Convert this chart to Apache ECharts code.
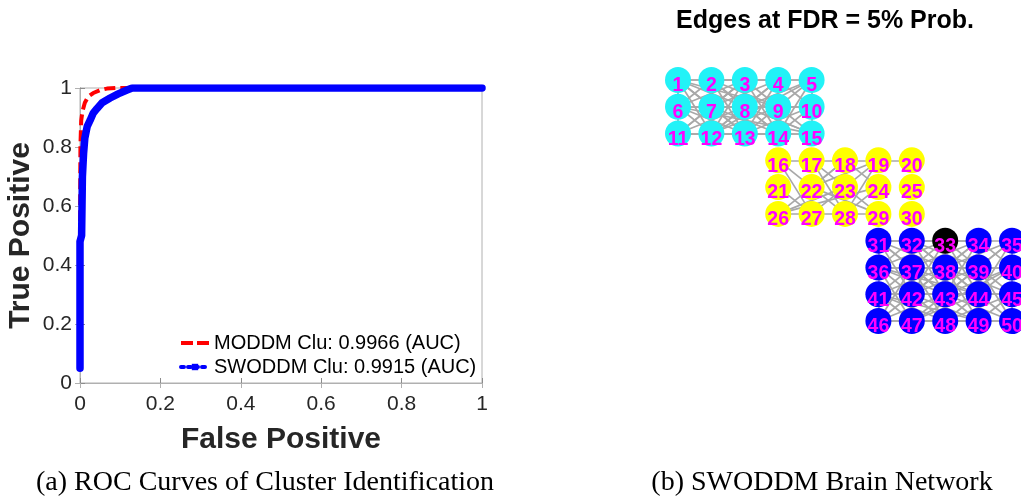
<!DOCTYPE html>
<html>
<head>
<meta charset="utf-8">
<script src="https://cdn.jsdelivr.net/npm/echarts@6/dist/echarts.min.js"></script>
<style>
html,body{margin:0;padding:0;background:#fff;}
#c{width:1021px;height:497px;}
</style>
</head>
<body>
<div id="c"></div>
<script>
// ROC curve data (False Positive, True Positive)
const moddmFP = [0, 0, 0.001, 0.003, 0.006, 0.012, 0.02, 0.033, 0.05, 0.067, 0.09, 1];
const moddmTP = [0.06, 0.5, 0.8, 0.89, 0.92, 0.95, 0.97, 0.983, 0.993, 0.998, 1, 1];
const swoddmFP = [0, 0, 0.004, 0.005, 0.006, 0.009, 0.012, 0.018, 0.025, 0.033, 0.042, 0.055, 0.075, 0.095, 0.117, 0.13, 1];
const swoddmTP = [0.05, 0.48, 0.5, 0.6, 0.7, 0.78, 0.83, 0.87, 0.89, 0.915, 0.93, 0.95, 0.966, 0.98, 0.993, 1, 1];
const seriesNames = ['MODDM Clu: 0.9966 (AUC)', 'SWODDM Clu: 0.9915 (AUC)'];

// Network nodes: id, grid column, grid row, cluster
const nodeIds  = [1,2,3,4,5,6,7,8,9,10,11,12,13,14,15,16,17,18,19,20,21,22,23,24,25,26,27,28,29,30,31,32,33,34,35,36,37,38,39,40,41,42,43,44,45,46,47,48,49,50];
const nodeCol  = [0,1,2,3,4,0,1,2,3,4,0,1,2,3,4, 3,4,5,6,7,3,4,5,6,7,3,4,5,6,7, 6,7,8,9,10,6,7,8,9,10,6,7,8,9,10,6,7,8,9,10];
const nodeRow  = [0,0,0,0,0,1,1,1,1,1,2,2,2,2,2, 3,3,3,3,3,4,4,4,4,4,5,5,5,5,5, 6,6,6,6,6,7,7,7,7,7,8,8,8,8,8,9,9,9,9,9];
const nodeGroup= [0,0,0,0,0,0,0,0,0,0,0,0,0,0,0, 1,1,1,1,1,1,1,1,1,1,1,1,1,1,1, 2,2,3,2,2,2,2,2,2,2,2,2,2,2,2,2,2,2,2,2];
const groupColors = ['#22f2f7', '#ffff00', '#0000ff', '#000000'];

// Edges (source, target)
const edges = [
 [1,2],[2,3],[3,4],[4,5],[6,7],[7,8],[8,9],[9,10],[11,12],[12,13],[13,14],[14,15],
 [1,6],[2,7],[3,8],[4,9],[5,10],[6,11],[7,12],[8,13],[9,14],[10,15],
 [1,7],[2,6],[2,8],[3,7],[3,9],[4,8],[4,10],[5,9],[6,12],[7,11],[7,13],[8,12],[8,14],[9,13],[9,15],[10,14],
 [1,8],[1,12],[2,9],[2,13],[3,6],[3,12],[3,14],[4,7],[4,13],[5,8],[5,14],[6,13],[7,14],[8,15],[11,8],[12,9],[13,10],
 [1,13],[2,14],[6,9],[11,14],[10,7],[12,4],[15,8],[11,3],[1,9],[5,12],[6,15],[1,3],[2,4],[3,5],[6,8],[7,9],[8,10],[11,13],[12,14],[13,15],
 [16,17],[17,18],[18,19],[19,20],[26,27],[27,28],[28,29],
 [16,22],[16,27],[17,23],[17,28],[18,22],[18,26],[19,27],[19,22],[19,28],[21,27],[22,28],[23,29],[24,28],[23,26],[22,29],[24,26],[18,24],
 [31,32],[32,33],[33,34],[34,35],[36,37],[37,38],[38,39],[39,40],[41,42],[42,43],[43,44],[44,45],[46,47],[47,48],[48,49],[49,50],
 [31,36],[32,37],[33,38],[34,39],[35,40],[36,41],[37,42],[38,43],[39,44],[40,45],[41,46],[42,47],[43,48],[44,49],[45,50],
 [31,37],[32,36],[32,38],[33,37],[33,39],[34,38],[34,40],[35,39],[36,42],[37,41],[37,43],[38,42],[38,44],[39,43],[39,45],[40,44],
 [41,47],[42,46],[42,48],[43,47],[43,49],[44,48],[44,50],[45,49],
 [31,38],[31,42],[32,39],[32,43],[33,36],[33,42],[33,44],[34,37],[34,43],[35,38],[35,44],[36,43],[37,44],[38,45],[41,38],[42,39],[43,40],
 [36,47],[37,48],[38,49],[39,50],[41,48],[42,49],[43,50],[46,43],[47,44],[48,45],[36,44],[41,49],[37,46],[40,47],[31,43],[32,44],[34,42],[35,43],[32,34],
 [31,33],[36,38],[37,39],[38,40],[41,43],[42,44],[43,45],[46,48],[47,49],[48,50]
];

const xTickInterval = 0.2;
const yTickInterval = 0.2;

const chart = echarts.init(document.getElementById('c'), null, {renderer: 'canvas'});

const sans = 'Liberation Sans';
const tickColor = '#262626';
const axisGray = '#8c8c8c';

const nodes = nodeIds.map((id, i) => ({
  name: String(id),
  value: [nodeCol[i], nodeRow[i]],
  itemStyle: {color: groupColors[nodeGroup[i]]}
}));
const links = edges.map(e => ({source: String(e[0]), target: String(e[1])}));

const option = {
  animation: false,
  backgroundColor: '#ffffff',
  grid: [
    {left: 80, top: 88, width: 402, height: 295, show: true, borderColor: '#b0b0b0', borderWidth: 1, backgroundColor: 'transparent'},
    {left: 678, top: 80, width: 334, height: 241, show: false}
  ],
  xAxis: [
    {type: 'value', gridIndex: 0, min: 0, max: 1, interval: xTickInterval,
     name: 'False Positive', nameLocation: 'middle', nameGap: 42,
     nameTextStyle: {fontFamily: sans, fontWeight: 'bold', fontSize: 30, color: tickColor},
     axisLine: {show: true, lineStyle: {color: axisGray, width: 1}},
     axisTick: {show: true, inside: true, length: 5, lineStyle: {color: axisGray}},
     axisLabel: {fontFamily: sans, fontSize: 21, color: tickColor, margin: 11},
     splitLine: {show: false}},
    {type: 'value', gridIndex: 0, min: 0, max: 1, interval: xTickInterval, position: 'top',
     axisLine: {show: true, lineStyle: {color: '#b0b0b0'}},
     axisTick: {show: true, inside: true, length: 5, lineStyle: {color: '#b0b0b0'}},
     axisLabel: {show: false}, splitLine: {show: false}},
    {type: 'value', gridIndex: 1, min: 0, max: 10, show: false}
  ],
  yAxis: [
    {type: 'value', gridIndex: 0, min: 0, max: 1, interval: yTickInterval,
     name: 'True Positive', nameLocation: 'middle', nameGap: 44,
     nameTextStyle: {fontFamily: sans, fontWeight: 'bold', fontSize: 30, color: tickColor},
     axisLine: {show: true, lineStyle: {color: axisGray, width: 1}},
     axisTick: {show: true, inside: true, length: 5, lineStyle: {color: axisGray}},
     axisLabel: {fontFamily: sans, fontSize: 21, color: tickColor, margin: 8},
     splitLine: {show: false}},
    {type: 'value', gridIndex: 0, min: 0, max: 1, interval: yTickInterval, position: 'right',
     axisLine: {show: true, lineStyle: {color: '#b0b0b0'}},
     axisTick: {show: true, inside: true, length: 5, lineStyle: {color: '#b0b0b0'}},
     axisLabel: {show: false}, splitLine: {show: false}},
    {type: 'value', gridIndex: 1, min: 0, max: 9, inverse: true, show: false}
  ],
  legend: {
    orient: 'vertical', left: 174, top: 327, itemWidth: 28, itemHeight: 8, itemGap: 2,
    textStyle: {fontFamily: sans, fontSize: 20, color: '#000', lineHeight: 22},
    data: [
      {name: seriesNames[0], itemStyle: {opacity: 0}, lineStyle: {color: '#ff0000', width: 4, type: [12, 4]}},
      {name: seriesNames[1], itemStyle: {color: '#0000ff'}, lineStyle: {color: '#0000ff', width: 4, type: [3, 4]}}
    ]
  },
  series: [
    {type: 'line', name: seriesNames[0], xAxisIndex: 0, yAxisIndex: 0,
     data: moddmFP.map((v, i) => [v, moddmTP[i]]),
     showSymbol: false, symbol: 'none', smooth: false,
     lineStyle: {color: '#ff0000', width: 4, type: [11, 5]}, itemStyle: {color: '#ff0000'}, z: 2},
    {type: 'line', name: seriesNames[1], xAxisIndex: 0, yAxisIndex: 0,
     data: swoddmFP.map((v, i) => [v, swoddmTP[i]]),
     showSymbol: false, symbol: 'rect', symbolSize: 8, smooth: false,
     lineStyle: {color: '#0000ff', width: 7.5, cap: 'round', join: 'round'}, itemStyle: {color: '#0000ff'}, z: 3},
    {type: 'graph', coordinateSystem: 'cartesian2d', xAxisIndex: 2, yAxisIndex: 2,
     data: nodes, links: links, symbol: 'circle', symbolSize: 26,
     lineStyle: {color: '#a8a8a8', width: 1.7, opacity: 1, curveness: 0},
     label: {show: true, position: 'inside', formatter: '{b}', offset: [0, 6],
             fontFamily: sans, fontWeight: 'bold', fontSize: 19.5, color: '#ff00ff'},
     emphasis: {disabled: true}, z: 2}
  ],
  graphic: [
    {type: 'text', x: 825, y: 21, style: {text: 'Edges at FDR = 5% Prob.', fontFamily: sans, fontWeight: 'bold', fontSize: 25, fill: '#000', align: 'center', verticalAlign: 'middle'}},
    {type: 'text', x: 265, y: 483, style: {text: '(a) ROC Curves of Cluster Identification', fontFamily: 'Liberation Serif', fontSize: 28, fill: '#000', align: 'center', verticalAlign: 'middle'}},
    {type: 'text', x: 822, y: 483, style: {text: '(b) SWODDM Brain Network', fontFamily: 'Liberation Serif', fontSize: 28, fill: '#000', align: 'center', verticalAlign: 'middle'}}
  ]
};
chart.setOption(option);
</script>
</body>
</html>
